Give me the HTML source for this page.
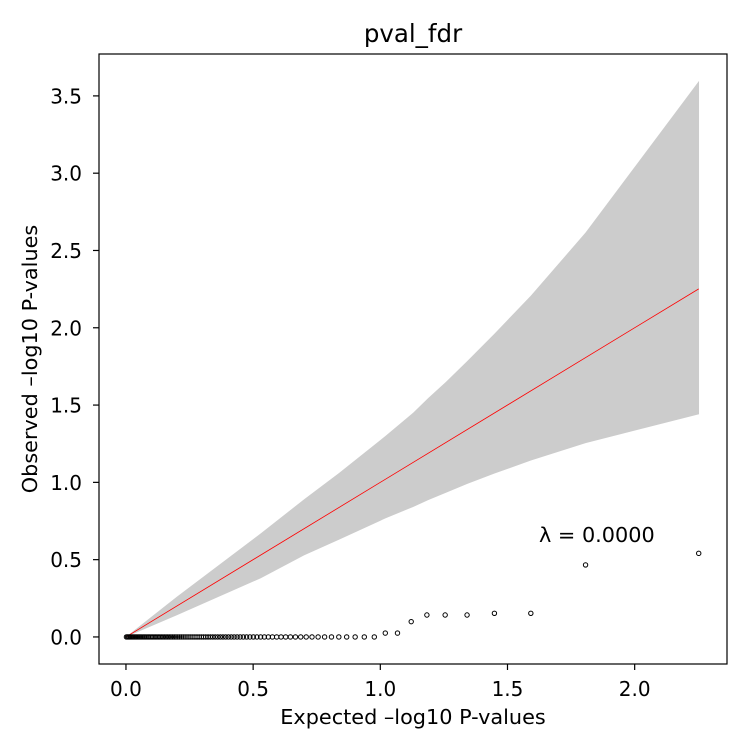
<!DOCTYPE html>
<html><head><meta charset="utf-8">
<style>
html,body{margin:0;padding:0;background:#fff;}
svg{display:block;font-family:"DejaVu Sans","Liberation Sans",sans-serif;}
</style></head>
<body>
<svg id="chart" width="750" height="750" viewBox="0 0 750 750" xmlns="http://www.w3.org/2000/svg">
<rect width="750" height="750" fill="#fff"/>
<text x="413" y="42" font-size="24.5" text-anchor="middle">pval_fdr</text>
<g id="band"></g>
<g id="line"></g>
<g id="points"></g>
<rect x="99" y="54" width="628" height="610" fill="none" stroke="#000" stroke-width="1.2"/>
<g id="xticks"></g>
<g id="yticks"></g>
<text x="413" y="724" font-size="20.8" text-anchor="middle">Expected –log10 P-values</text>
<text transform="translate(37,359) rotate(-90)" font-size="20.8" text-anchor="middle">Observed –log10 P-values</text>
<text x="539" y="542" font-size="20.8">λ = 0.0000</text>
</svg>
<script>
// data
const nTests = 100;
const observedTop = [0.541, 0.466, 0.153, 0.153, 0.142, 0.142, 0.142, 0.099, 0.025, 0.025];
const bandX = [0.0019, 0.2, 0.53, 0.70, 0.837, 1.020, 1.129, 1.188, 1.258, 1.342, 1.449, 1.592, 1.807, 2.253];
const bandUpper = [0.003, 0.26, 0.67, 0.89, 1.06, 1.30, 1.45, 1.545, 1.65, 1.785, 1.962, 2.208, 2.616, 3.597];
const bandLower = [0.001, 0.14, 0.38, 0.528, 0.629, 0.767, 0.841, 0.885, 0.933, 0.990, 1.057, 1.141, 1.254, 1.441];
const xTicks = [0.0, 0.5, 1.0, 1.5, 2.0];
const xTickLabels = ["0.0", "0.5", "1.0", "1.5", "2.0"];
const yTicks = [0.0, 0.5, 1.0, 1.5, 2.0, 2.5, 3.0, 3.5];
const yTickLabels = ["0.0", "0.5", "1.0", "1.5", "2.0", "2.5", "3.0", "3.5"];

const NS = "http://www.w3.org/2000/svg";
const X0 = -0.106, X1 = 2.363, Y0 = -0.175, Y1 = 3.771;
const L = 99, R = 727, T = 54, B = 664;
function sx(v){ return L + (v - X0) / (X1 - X0) * (R - L); }
function sy(v){ return B - (v - Y0) / (Y1 - Y0) * (B - T); }
function mk(tag, attrs, parent){
  const e = document.createElementNS(NS, tag);
  for (const k in attrs) e.setAttribute(k, attrs[k]);
  parent.appendChild(e);
  return e;
}

// band
let d = "";
bandX.forEach((x, i) => { d += (i ? "L" : "M") + sx(x).toFixed(2) + "," + sy(bandUpper[i]).toFixed(2); });
for (let i = bandX.length - 1; i >= 0; i--) d += "L" + sx(bandX[i]).toFixed(2) + "," + sy(bandLower[i]).toFixed(2);
d += "Z";
const band = mk("path", {d: d, fill: "#cccccc", stroke: "none"}, document.getElementById("band"));



// expected quantiles and observed values
const expected = [], observed = [];
for (let i = 1; i <= nTests; i++) {
  expected.push(-Math.log10((i - 0.44) / nTests));
  observed.push(i <= observedTop.length ? observedTop[i - 1] : 0);
}
const xMax = expected[0];
const ln = mk("line", {x1: sx(expected[nTests-1]), y1: sy(expected[nTests-1]), x2: sx(xMax), y2: sy(xMax), stroke: "#ff0000", "stroke-width": 0.8}, document.getElementById("line"));



const pg = document.getElementById("points");
for (let i = nTests - 1; i >= 0; i--) {
  const c = mk("circle", {cx: sx(expected[i]).toFixed(2), cy: sy(observed[i]).toFixed(2), r: 2.2, fill: "none", stroke: "#000", "stroke-width": 1}, pg);
  
  
}

const xg = document.getElementById("xticks");
xTicks.forEach((v, i) => {
  const t = mk("line", {x1: sx(v), y1: B, x2: sx(v), y2: B + 6, stroke: "#000", "stroke-width": 1.2}, xg);
  
  
  const lb = mk("text", {x: sx(v), y: B + 32, "font-size": 20, "text-anchor": "middle"}, xg);
  lb.textContent = xTickLabels[i];
  
  
});
const yg = document.getElementById("yticks");
yTicks.forEach((v, i) => {
  const t = mk("line", {x1: L - 6, y1: sy(v), x2: L, y2: sy(v), stroke: "#000", "stroke-width": 1.2}, yg);
  
  
  const lb = mk("text", {x: L - 17, y: sy(v) + 7.5, "font-size": 20, "text-anchor": "end"}, yg);
  lb.textContent = yTickLabels[i];
  
  
});
</script>
</body></html>
